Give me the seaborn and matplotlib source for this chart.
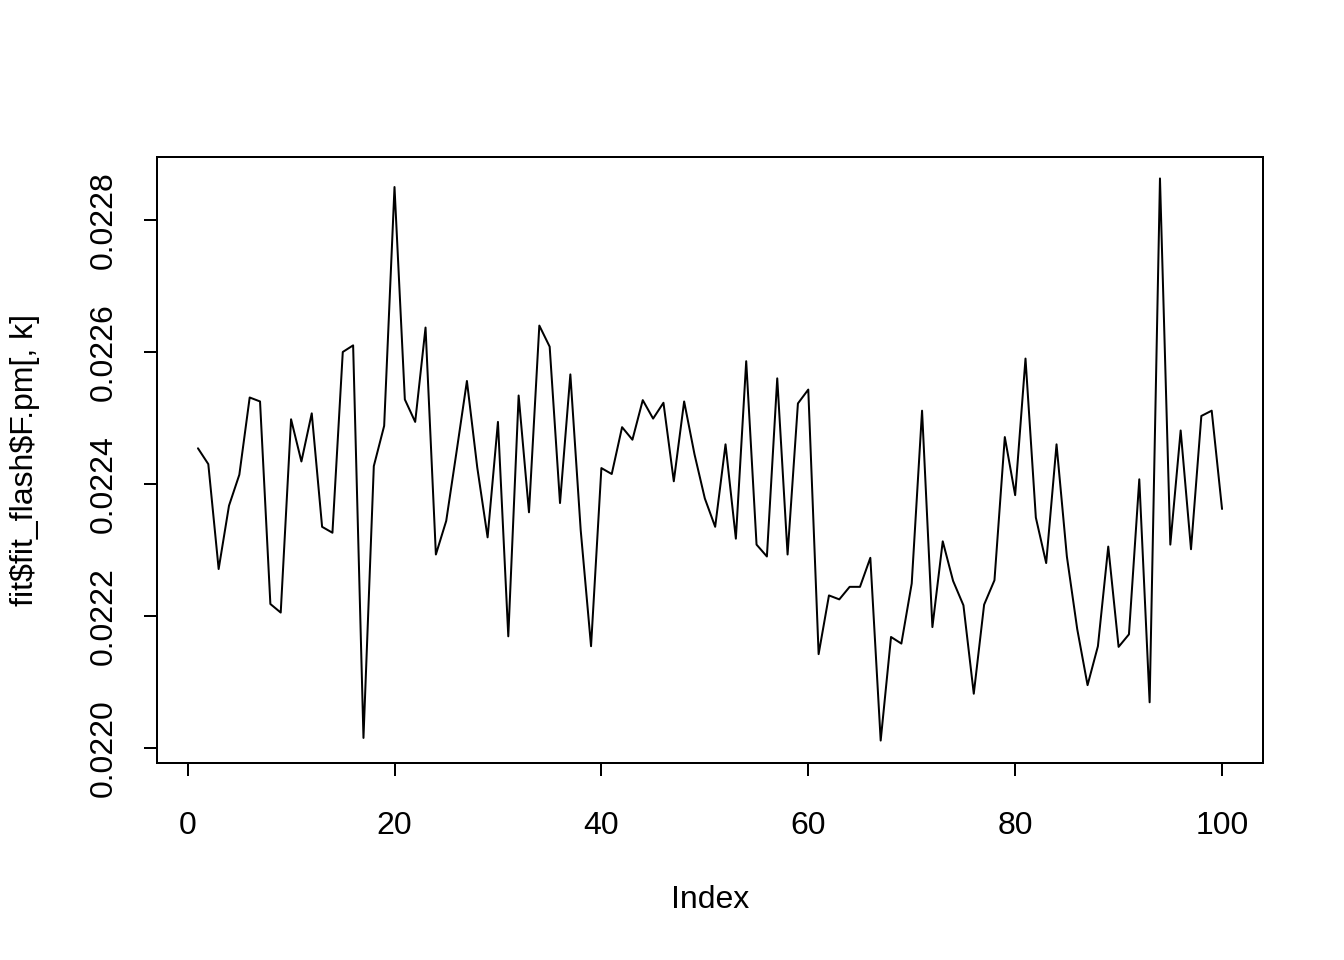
import matplotlib
matplotlib.use("Agg")
import matplotlib.pyplot as plt
import seaborn as sns
import numpy as np
import pandas as pd

# values (index 1..100)
values = [
    0.022454, 0.022430, 0.022271, 0.022367, 0.022414, 0.022531, 0.022525, 0.022218, 0.022205, 0.022498,
    0.022434, 0.022507, 0.022335, 0.022326, 0.022600, 0.022610, 0.022015, 0.022427, 0.022488, 0.022850,
    0.022528, 0.022494, 0.022637, 0.022293, 0.022344, 0.022449, 0.022556, 0.022425, 0.022319, 0.022494,
    0.022169, 0.022534, 0.022357, 0.022640, 0.022608, 0.022371, 0.022566, 0.022330, 0.022154, 0.022424,
    0.022415, 0.022486, 0.022467, 0.022527, 0.022499, 0.022523, 0.022404, 0.022525, 0.022445, 0.022378,
    0.022335, 0.022460, 0.022317, 0.022586, 0.022308, 0.022290, 0.022560, 0.022293, 0.022522, 0.022543,
    0.022142, 0.022231, 0.022225, 0.022244, 0.022244, 0.022288, 0.022011, 0.022168, 0.022158, 0.022249,
    0.022511, 0.022183, 0.022313, 0.022253, 0.022216, 0.022082, 0.022217, 0.022254, 0.022471, 0.022383,
    0.022590, 0.022349, 0.022280, 0.022460, 0.022290, 0.022180, 0.022095, 0.022154, 0.022305, 0.022153,
    0.022172, 0.022407, 0.022069, 0.022863, 0.022308, 0.022481, 0.022301, 0.022503, 0.022511, 0.022362,
]
index = list(range(1, len(values) + 1))
x_ticks = [0, 20, 40, 60, 80, 100]
y_ticks = [0.0220, 0.0222, 0.0224, 0.0226, 0.0228]
y_tick_labels = ["0.0220", "0.0222", "0.0224", "0.0226", "0.0228"]

df = pd.DataFrame({"Index": index, "val": values})

sns.set_style("white")
plt.rcParams["font.family"] = ["Liberation Sans", "DejaVu Sans"]
plt.rcParams["font.size"] = 12
plt.rcParams["text.color"] = "black"
plt.rcParams["axes.labelcolor"] = "black"

fig = plt.figure(figsize=(7, 5), dpi=192)
ax = fig.add_axes([157 / 1344, 1 - 763 / 960, (1263 - 157) / 1344, (763 - 157) / 960])
sns.lineplot(data=df, x="Index", y="val", color="black", linewidth=0.75, ax=ax)

ax.set_xlim(-2.96, 103.96)
ax.set_ylim(0.021977, 0.0228955)
ax.set_xticks(x_ticks)
ax.set_xticklabels([str(t) for t in x_ticks])
ax.set_yticks(y_ticks)
ax.set_yticklabels(y_tick_labels, rotation=90, va="center")

for s in ax.spines.values():
    s.set_color("black")
    s.set_linewidth(0.75)

ax.tick_params(axis="both", direction="out", length=5, width=0.75, color="black",
               labelsize=12, labelcolor="black")
ax.tick_params(axis="x", pad=13, bottom=True)
ax.tick_params(axis="y", pad=9.5, left=True)

ax.set_xlabel("Index", fontsize=12, color="black")
ax.set_ylabel(r"fit\$fit_flash\$F.pm[, k]", fontsize=12, color="black")
ax.xaxis.set_label_coords(0.5, (763 - 900) / (763 - 157))
ax.xaxis.label.set_va("center")
ax.yaxis.set_label_coords((25 - 157) / (1263 - 157), 0.5)
ax.yaxis.label.set_va("center")

fig.savefig("out.png", dpi=192)
